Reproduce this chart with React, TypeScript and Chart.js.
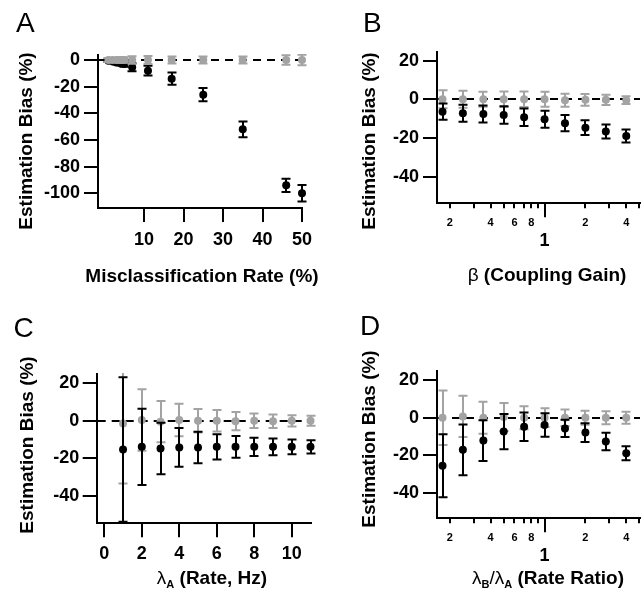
import React, { useEffect, useRef } from 'react';
import { Chart, registerables } from 'chart.js';

Chart.register(...registerables);

const FONT = "'Liberation Sans', Arial, Helvetica, sans-serif";
const BLACK = '#000000';
const GRAY = '#a3a3a3';

// ---------- Panel A: misclassification rate ----------
const aRates = [1, 2, 3, 4, 5, 7, 11, 17, 25, 35, 46, 50];
const aBlack = [-0.5, -1, -1.8, -2.5, -3, -5.5, -8, -14, -26, -52, -94, -100];
const aBlackErr = [1, 1, 1.5, 1.5, 2, 3, 3.7, 4.6, 5, 5.9, 5, 6.2];
const aGray = [0, 0, 0, 0, 0, 0, 0, 0, 0, 0, 0, 0];
const aGrayErr = [1.5, 1.5, 1.5, 2, 2, 2.9, 3, 2.6, 2.7, 2.7, 3.5, 4];
const aXTicks = [10, 20, 30, 40, 50];
const aYTicks = [-100, -80, -60, -40, -20, 0];

// ---------- Panel B: coupling gain ----------
const bGain = [0.177, 0.25, 0.354, 0.5, 0.707, 1, 1.414, 2, 2.828, 4];
const bBlack = [-6.4, -7.2, -7.6, -8.1, -9.3, -10.3, -12.4, -14.7, -16.7, -19.0];
const bBlackErr = [4.2, 4.4, 4.4, 4.5, 4.5, 4.4, 4.2, 3.8, 3.6, 3.4];
const bGray = [0, 0, 0, 0, 0, 0, -0.5, -0.3, -0.3, -0.5];
const bGrayErr = [4.7, 4.4, 3.9, 4.0, 4.0, 3.9, 3.4, 3.0, 2.6, 2.0];

// ---------- Panel C: rate ----------
const cRate = [1, 2, 3, 4, 5, 6, 7, 8, 9, 10, 11];
const cBlack = [-15.3, -13.9, -14.8, -14.2, -14.2, -13.9, -13.9, -13.9, -13.9, -13.9, -13.9];
const cBlackErr = [38.5, 20.3, 13.7, 10.3, 8.4, 6.7, 5.8, 4.9, 4.4, 3.9, 3.5];
const cGray = [-1.4, 0.4, -0.5, 0.4, 0, 0, -0.2, 0, -0.3, 0, 0];
const cGrayErr = [32, 16.4, 11, 8.6, 6.3, 5.7, 4.8, 3.9, 3.6, 3.0, 2.7];
const cXTicks = [0, 2, 4, 6, 8, 10];

// ---------- Panel D: rate ratio ----------
const dRatio = [0.177, 0.25, 0.354, 0.5, 0.707, 1, 1.414, 2, 2.828, 4];
const dBlack = [-25.6, -17.1, -12.2, -7.4, -4.8, -3.9, -5.7, -7.9, -12.7, -18.9];
const dBlackErr = [16.8, 13.5, 10.8, 9.4, 7.6, 6.3, 4.6, 5.0, 4.7, 3.7];
const dGray = [0, 0.7, 0, 0.4, 0, 0, 0, 0, 0, 0];
const dGrayErr = [14.5, 11, 8.5, 7.5, 6.1, 5.0, 4.4, 3.7, 3.5, 3.2];

// shared ticks
const biasYTicks = [-40, -20, 0, 20];
const logTicks = [0.2, 0.3, 0.4, 0.5, 0.6, 0.7, 0.8, 0.9, 1, 2, 3, 4, 5];
const logLabels: (string | string[])[] = ['2', '', '4', '', '6', '', '8', '', ['', '1'], '2', '', '4', ''];

const yTitleText = 'Estimation Bias (%)';

type Seg = { t: string; size?: number; weight?: string; dy?: number };

const xTitleA: Seg[] = [{ t: 'Misclassification Rate (%)' }];
const xTitleB: Seg[] = [{ t: 'β', weight: 'normal' }, { t: ' (Coupling Gain)' }];
const xTitleC: Seg[] = [
  { t: 'λ', weight: 'normal' },
  { t: 'A', size: 11, dy: 4 },
  { t: ' (Rate, Hz)' },
];
const xTitleD: Seg[] = [
  { t: 'λ', weight: 'normal' },
  { t: 'B', size: 11, dy: 4 },
  { t: '/', weight: 'normal' },
  { t: 'λ', weight: 'normal' },
  { t: 'A', size: 11, dy: 4 },
  { t: ' (Rate Ratio)' },
];

interface PanelSpec {
  letter: string;
  w: number;
  h: number;
  area: { left: number; right: number; top: number; bottom: number };
  xType: 'linear' | 'logarithmic';
  xMin: number;
  xMax: number;
  yMin: number;
  yMax: number;
  xTicks: number[];
  xLabels?: (string | string[])[];
  yTicks: number[];
  xs: number[];
  black: number[];
  blackErr: number[];
  gray: number[];
  grayErr: number[];
  xTitle: Seg[];
  letterPos: [number, number];
  yTitlePos: [number, number];
  xTitlePos: [number, number];
  xTickPad: number;
  yTickPad: number;
  majorTick?: number;
  grayOnTop?: boolean;
}

const panelA: PanelSpec = {
  letter: 'A', w: 322, h: 295,
  area: { left: 98, right: 302, top: 55, bottom: 208 },
  xType: 'linear', xMin: -1.65, xMax: 50, yMin: -111, yMax: 3.75,
  xTicks: aXTicks, yTicks: aYTicks,
  xs: aRates, black: aBlack, blackErr: aBlackErr, gray: aGray, grayErr: aGrayErr,
  xTitle: xTitleA,
  letterPos: [16, 32], yTitlePos: [27, 141], xTitlePos: [202, 282],
  xTickPad: 7.5, yTickPad: 4, grayOnTop: true,
};

const panelB: PanelSpec = {
  letter: 'B', w: 322, h: 295,
  area: { left: 115, right: 322, top: 51.7, bottom: 203.3 },
  xType: 'logarithmic', xMin: 0.1612, xMax: 5.05, yMin: -53.8, yMax: 24.6,
  xTicks: logTicks, xLabels: logLabels, yTicks: biasYTicks,
  xs: bGain, black: bBlack, blackErr: bBlackErr, gray: bGray, grayErr: bGrayErr,
  xTitle: xTitleB,
  letterPos: [41, 32], yTitlePos: [47.5, 141], xTitlePos: [225, 281],
  xTickPad: 8.4, yTickPad: 4, majorTick: 1,
};

const panelC: PanelSpec = {
  letter: 'C', w: 322, h: 296,
  area: { left: 96.7, right: 310.5, top: 79, bottom: 228.3 },
  xType: 'linear', xMin: -0.405, xMax: 11, yMin: -54.6, yMax: 24.9,
  xTicks: cXTicks, yTicks: biasYTicks,
  xs: cRate, black: cBlack, blackErr: cBlackErr, gray: cGray, grayErr: cGrayErr,
  xTitle: xTitleC,
  letterPos: [13.5, 42], yTitlePos: [27.5, 150], xTitlePos: [212, 288.5],
  xTickPad: 6, yTickPad: 3.5,
};

const panelD: PanelSpec = {
  letter: 'D', w: 322, h: 296,
  area: { left: 115, right: 322, top: 76, bottom: 223.3 },
  xType: 'logarithmic', xMin: 0.1612, xMax: 5.05, yMin: -53.6, yMax: 24.9,
  xTicks: logTicks, xLabels: logLabels, yTicks: biasYTicks,
  xs: dRatio, black: dBlack, blackErr: dBlackErr, gray: dGray, grayErr: dGrayErr,
  xTitle: xTitleD,
  letterPos: [38, 40], yTitlePos: [47.5, 144], xTitlePos: [226, 288.5],
  xTickPad: 8.4, yTickPad: 4, majorTick: 1,
};

function drawSegs(ctx: CanvasRenderingContext2D, segs: Seg[], cx: number, baseline: number) {
  const fonts = segs.map((s) => `${s.weight ?? 'bold'} ${s.size ?? 19}px ${FONT}`);
  let total = 0;
  const widths = segs.map((s, i) => {
    ctx.font = fonts[i];
    const w = ctx.measureText(s.t).width;
    total += w;
    return w;
  });
  let x = cx - total / 2;
  ctx.textAlign = 'left';
  ctx.textBaseline = 'alphabetic';
  ctx.fillStyle = BLACK;
  segs.forEach((s, i) => {
    ctx.font = fonts[i];
    ctx.fillText(s.t, x, baseline + (s.dy ?? 0));
    x += widths[i];
  });
}

function makeConfig(p: PanelSpec): any {
  const tickFont = { family: FONT, size: 18, weight: 'bold', lineHeight: 1.2 };
  const isLog = p.xType === 'logarithmic';

  const decor = {
    id: 'decor' + p.letter,
    beforeDatasetsDraw(chart: any) {
      const { ctx, chartArea } = chart;
      const ys = chart.scales.y;
      const y0 = Math.round(ys.getPixelForValue(0));
      ctx.save();
      ctx.strokeStyle = BLACK;
      ctx.lineWidth = 2;
      ctx.setLineDash([8, 6]);
      ctx.beginPath();
      ctx.moveTo(chartArea.left + 1, y0);
      ctx.lineTo(chartArea.right, y0);
      ctx.stroke();
      ctx.restore();
    },
    beforeDatasetDraw(chart: any, args: any) {
      const { ctx, chartArea } = chart;
      const ds = chart.data.datasets[args.index];
      const xs = chart.scales.x;
      const ys = chart.scales.y;
      ctx.save();
      ctx.beginPath();
      ctx.rect(0, chartArea.top - 1, chart.width, chartArea.bottom - chartArea.top + 2);
      ctx.clip();
      ctx.strokeStyle = ds.borderColor;
      ctx.lineWidth = 2;
      ds.data.forEach((pt: any, i: number) => {
        const e = ds.errors[i];
        const x = Math.round(xs.getPixelForValue(pt.x));
        const yt = ys.getPixelForValue(pt.y + e);
        const yb = ys.getPixelForValue(pt.y - e);
        ctx.beginPath();
        ctx.moveTo(x, yt);
        ctx.lineTo(x, yb);
        ctx.moveTo(x - 4.5, yt);
        ctx.lineTo(x + 4.5, yt);
        ctx.moveTo(x - 4.5, yb);
        ctx.lineTo(x + 4.5, yb);
        ctx.stroke();
      });
      ctx.restore();
    },
    afterDraw(chart: any) {
      const { ctx, chartArea } = chart;
      ctx.save();
      if (p.majorTick !== undefined) {
        const xp = Math.round(chart.scales.x.getPixelForValue(p.majorTick));
        ctx.strokeStyle = BLACK;
        ctx.lineWidth = 2;
        ctx.beginPath();
        ctx.moveTo(xp, chartArea.bottom);
        ctx.lineTo(xp, chartArea.bottom + 14);
        ctx.stroke();
      }
      ctx.fillStyle = BLACK;
      ctx.font = `normal 28px ${FONT}`;
      ctx.textAlign = 'left';
      ctx.textBaseline = 'alphabetic';
      ctx.fillText(p.letter, p.letterPos[0], p.letterPos[1]);
      ctx.save();
      ctx.translate(p.yTitlePos[0], p.yTitlePos[1]);
      ctx.rotate(-Math.PI / 2);
      ctx.font = `bold 19px ${FONT}`;
      ctx.textAlign = 'center';
      ctx.textBaseline = 'middle';
      ctx.fillText(yTitleText, 0, 0);
      ctx.restore();
      drawSegs(ctx, p.xTitle, p.xTitlePos[0], p.xTitlePos[1]);
      ctx.restore();
    },
  };

  const xLabelFont = isLog
    ? (c: any) =>
        c.tick && c.tick.value === 1
          ? { family: FONT, size: 18, weight: 'bold', lineHeight: 0.9 }
          : { family: FONT, size: 11, weight: 'bold', lineHeight: 1.2 }
    : tickFont;

  return {
    type: 'scatter',
    data: {
      datasets: [
        {
          label: 'black',
          data: p.xs.map((x, i) => ({ x, y: p.black[i] })),
          errors: p.blackErr,
          backgroundColor: BLACK,
          borderColor: BLACK,
          pointRadius: 4,
          pointBorderWidth: 0,
          pointHoverRadius: 4,
          clip: false,
          order: p.grayOnTop ? 1 : 0,
        },
        {
          label: 'gray',
          data: p.xs.map((x, i) => ({ x, y: p.gray[i] })),
          errors: p.grayErr,
          backgroundColor: GRAY,
          borderColor: GRAY,
          pointRadius: 4,
          pointBorderWidth: 0,
          pointHoverRadius: 4,
          clip: false,
          order: p.grayOnTop ? 0 : 1,
        },
      ],
    },
    options: {
      animation: false,
      responsive: false,
      devicePixelRatio: 1,
      events: [],
      layout: {
        padding: { left: 0, top: p.area.top, right: p.w - p.area.right, bottom: 0 },
      },
      plugins: {
        legend: { display: false },
        title: { display: false },
        tooltip: { enabled: false },
      },
      scales: {
        x: {
          type: p.xType,
          position: 'bottom',
          min: p.xMin,
          max: p.xMax,
          bounds: 'data',
          afterBuildTicks: (s: any) => {
            s.ticks = p.xTicks.map((v) => ({ value: v }));
          },
          afterFit: (s: any) => {
            s.height = p.h - p.area.bottom;
            s.paddingLeft = 0;
            s.paddingRight = 0;
          },
          grid: {
            drawOnChartArea: false,
            drawTicks: true,
            tickLength: isLog ? 5 : 14,
            color: BLACK,
            lineWidth: 2,
          },
          border: { display: true, color: BLACK, width: 2 },
          ticks: {
            font: xLabelFont,
            color: BLACK,
            padding: p.xTickPad,
            autoSkip: false,
            maxRotation: 0,
            minRotation: 0,
            callback: (v: number, i: number) => (p.xLabels ? p.xLabels[i] : String(v)),
          },
        },
        y: {
          type: 'linear',
          position: 'left',
          min: p.yMin,
          max: p.yMax,
          bounds: 'data',
          afterBuildTicks: (s: any) => {
            s.ticks = p.yTicks.map((v) => ({ value: v }));
          },
          afterFit: (s: any) => {
            s.width = p.area.left;
            s.paddingTop = 0;
            s.paddingBottom = 0;
          },
          grid: {
            drawOnChartArea: false,
            drawTicks: true,
            tickLength: 14,
            color: BLACK,
            lineWidth: 2,
          },
          border: { display: true, color: BLACK, width: 2 },
          ticks: {
            font: tickFont,
            color: BLACK,
            padding: p.yTickPad,
            autoSkip: false,
            callback: (v: number) => String(v),
          },
        },
      },
    },
    plugins: [decor],
  };
}

function Panel({ spec, left, top }: { spec: PanelSpec; left: number; top: number }) {
  const ref = useRef<HTMLCanvasElement | null>(null);
  useEffect(() => {
    const c = ref.current;
    if (!c) return;
    const chart = new Chart(c, makeConfig(spec));
    return () => chart.destroy();
  }, [spec]);
  return (
    <canvas
      ref={ref}
      width={spec.w}
      height={spec.h}
      style={{ position: 'absolute', left, top, width: spec.w, height: spec.h, display: 'block' }}
    />
  );
}

export default function App() {
  return (
    <div
      style={{
        position: 'absolute',
        left: 0,
        top: 0,
        width: 644,
        height: 591,
        background: '#ffffff',
        overflow: 'hidden',
      }}
    >
      <Panel spec={panelA} left={0} top={0} />
      <Panel spec={panelB} left={322} top={0} />
      <Panel spec={panelC} left={0} top={295} />
      <Panel spec={panelD} left={322} top={295} />
    </div>
  );
}
